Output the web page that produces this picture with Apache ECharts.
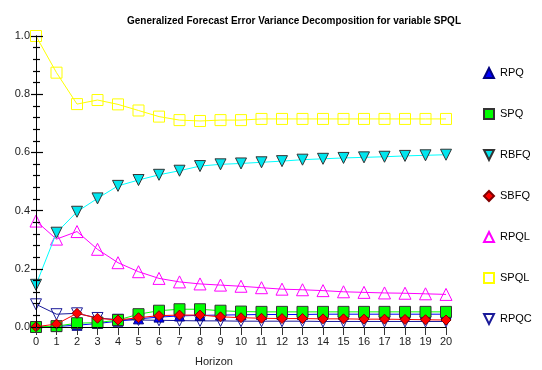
<!DOCTYPE html>
<html>
<head>
<meta charset="utf-8">
<script src="https://cdn.jsdelivr.net/npm/echarts@6/dist/echarts.min.js"></script>
<style>
  html, body { margin: 0; padding: 0; background: #fff; }
  #chart { width: 542px; height: 370px; }
</style>
</head>
<body>
<div id="chart"></div>
<script>
// Forecast horizons
const horizons = [0, 1, 2, 3, 4, 5, 6, 7, 8, 9, 10, 11, 12, 13, 14, 15, 16, 17, 18, 19, 20];

// Share of SPQL forecast error variance explained by each variable
const RPQ  = [0.000, 0.002, 0.006, 0.012, 0.020, 0.028, 0.034, 0.038, 0.040, 0.041, 0.042, 0.043, 0.043, 0.043, 0.044, 0.044, 0.044, 0.044, 0.044, 0.044, 0.044];
const SPQ  = [0.000, 0.003, 0.013, 0.015, 0.024, 0.044, 0.056, 0.061, 0.061, 0.056, 0.053, 0.052, 0.052, 0.052, 0.052, 0.052, 0.052, 0.052, 0.052, 0.052, 0.052];
const RBFQ = [0.145, 0.324, 0.396, 0.442, 0.485, 0.505, 0.523, 0.537, 0.553, 0.559, 0.562, 0.566, 0.570, 0.575, 0.578, 0.581, 0.583, 0.585, 0.588, 0.590, 0.592];
const SBFQ = [0.001, 0.010, 0.047, 0.030, 0.024, 0.032, 0.039, 0.041, 0.041, 0.035, 0.032, 0.030, 0.029, 0.029, 0.028, 0.028, 0.027, 0.027, 0.026, 0.025, 0.024];
const RPQL = [0.364, 0.302, 0.328, 0.267, 0.221, 0.190, 0.167, 0.155, 0.148, 0.144, 0.140, 0.135, 0.130, 0.128, 0.125, 0.121, 0.119, 0.117, 0.116, 0.114, 0.112];
const SPQL = [1.000, 0.874, 0.766, 0.780, 0.765, 0.744, 0.723, 0.711, 0.708, 0.711, 0.711, 0.715, 0.715, 0.715, 0.715, 0.715, 0.715, 0.715, 0.715, 0.715, 0.715];
const RPQC = [0.078, 0.044, 0.047, 0.031, 0.025, 0.024, 0.023, 0.022, 0.021, 0.021, 0.020, 0.020, 0.020, 0.020, 0.019, 0.019, 0.019, 0.019, 0.019, 0.019, 0.019];

const yTicks = [0.0, 0.2, 0.4, 0.6, 0.8, 1.0];

const pairs = vals => horizons.map((h, i) => [h, vals[i]]);

const FONT = 'Liberation Sans, Arial, sans-serif';
const DOWN = 'path://M0,0 L10,0 L5,10 Z';

function line(name, vals, color, symbol, size, fill, border, z) {
  return {
    name: name,
    type: 'line',
    data: pairs(vals),
    yAxisIndex: 0,
    symbol: symbol,
    symbolSize: size,
    showAllSymbol: true,
    z: z,
    lineStyle: { color: color, width: 1 },
    itemStyle: { color: fill, borderColor: border, borderWidth: 1 },
    emphasis: { disabled: true },
    animation: false
  };
}

const chart = echarts.init(document.getElementById('chart'), null, { renderer: 'canvas' });

const yCommon = {
  type: 'value',
  min: yTicks[0],
  max: yTicks[yTicks.length - 1],
  interval: 0.2,
  position: 'left',
  offset: 0,
  z: 10,
  splitLine: { show: false },
  axisLine: { show: true, onZero: false, lineStyle: { color: '#000', width: 1 } }
};

chart.setOption({
  animation: false,
  backgroundColor: '#fff',
  title: {
    text: 'Generalized Forecast Error Variance Decomposition for variable SPQL',
    left: 122,
    top: 11,
    textStyle: { fontFamily: FONT, fontSize: 10, fontWeight: 'bold', color: '#000' }
  },
  legend: {
    orient: 'vertical',
    left: 478,
    top: 62,
    itemGap: 29,
    itemWidth: 10,
    itemHeight: 10,
    textStyle: { fontFamily: FONT, fontSize: 11, color: '#000', padding: [0, 0, 0, 1] },
    data: [
      { name: 'RPQ',  icon: 'triangle' },
      { name: 'SPQ',  icon: 'rect' },
      { name: 'RBFQ', icon: DOWN },
      { name: 'SBFQ', icon: 'diamond' },
      { name: 'RPQL', icon: 'triangle' },
      { name: 'SPQL', icon: 'rect' },
      { name: 'RPQC', icon: DOWN }
    ],
    selectedMode: false
  },
  grid: { left: 36, right: 96, top: 36, bottom: 43, containLabel: false },
  xAxis: {
    type: 'value',
    min: horizons[0],
    max: horizons[horizons.length - 1],
    interval: 1,
    z: 10,
    splitLine: { show: false },
    axisLine: { show: true, onZero: false, lineStyle: { color: '#000', width: 1 } },
    axisTick: { show: true, length: 8, lineStyle: { color: '#333', width: 1 } },
    axisLabel: { fontFamily: FONT, fontSize: 11, color: '#222', margin: 9 }
  },
  yAxis: [
    Object.assign({}, yCommon, {
      axisTick: { show: true, inside: false, length: 5, lineStyle: { color: '#000', width: 1.2 } },
      minorTick: { show: true, splitNumber: 5, length: 3, lineStyle: { color: '#000', width: 1.2 } },
      axisLabel: {
        fontFamily: FONT, fontSize: 11, color: '#222', margin: 6,
        formatter: v => v.toFixed(1)
      }
    }),
    Object.assign({}, yCommon, {
      axisTick: { show: true, inside: true, length: 7, lineStyle: { color: '#000', width: 1.2 } },
      minorTick: { show: true, splitNumber: 5, length: 4, lineStyle: { color: '#000', width: 1.2 } },
      axisLabel: { show: false }
    })
  ],
  graphic: [
    {
      type: 'text',
      left: 195,
      top: 356,
      style: { text: 'Horizon', fontFamily: FONT, fontSize: 11, fill: '#222' }
    }
  ],
  series: [
    line('RPQ',  RPQ,  '#0000ff', 'triangle', 10, '#0000ff', '#000080', 2),
    line('SPQ',  SPQ,  '#00ff00', 'rect', 11, '#00ff00', '#333333', 3),
    line('RBFQ', RBFQ, '#00ffff', DOWN, 11, '#00e5ee', '#333333', 4),
    line('SBFQ', SBFQ, '#ff0000', 'diamond', 10, '#ff0000', '#800000', 5),
    line('RPQL', RPQL, '#ff00ff', 'triangle', 12, '#ffffff00', '#ff00ff', 2),
    line('SPQL', SPQL, '#ffff00', 'rect', 11, '#ffffff00', '#ffff00', 2),
    line('RPQC', RPQC, '#1a1a99', DOWN, 11, '#ffffff00', '#1a1a99', 1)
  ]
});
</script>
</body>
</html>
